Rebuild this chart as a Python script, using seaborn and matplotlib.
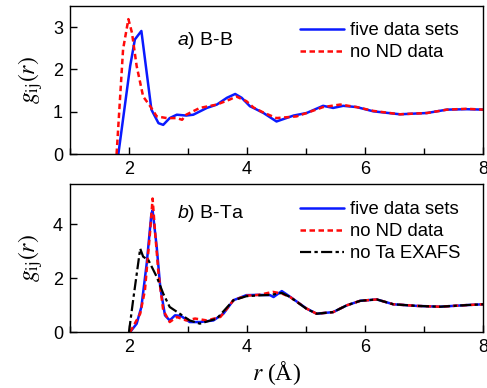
import matplotlib
matplotlib.use("Agg")
import matplotlib.pyplot as plt
import seaborn as sns
from matplotlib.ticker import MultipleLocator

# panel a) B-B
bb_five_r = [1.82, 2.02, 2.10, 2.21, 2.38, 2.50, 2.58, 2.69, 2.81, 2.97, 3.09, 3.32, 3.49, 3.66, 3.80, 3.91,
             4.05, 4.11, 4.28, 4.50, 4.79, 5.01, 5.29, 5.46, 5.63, 5.86, 6.14, 6.59, 7.05, 7.39, 7.72, 8.0]
bb_five_g = [0, 2.08, 2.71, 2.91, 1.05, 0.73, 0.69, 0.85, 0.93, 0.91, 0.93, 1.09, 1.17, 1.33, 1.42, 1.33,
             1.13, 1.09, 0.97, 0.77, 0.91, 0.97, 1.14, 1.09, 1.14, 1.11, 1.01, 0.94, 0.97, 1.05, 1.06, 1.05]
bb_nond_r = [1.79, 1.90, 1.99, 2.05, 2.13, 2.24, 2.36, 2.47, 2.64, 2.81, 2.90, 2.97, 3.20, 3.49, 3.71, 3.82,
             3.99, 4.11, 4.28, 4.50, 4.84, 5.01, 5.29, 5.58, 5.86, 6.14, 6.59, 7.05, 7.39, 7.72, 8.0]
bb_nond_g = [0, 2.48, 3.19, 2.87, 2.08, 1.36, 1.13, 0.89, 0.85, 0.85, 0.81, 0.93, 1.09, 1.17, 1.29, 1.36,
             1.25, 1.10, 0.98, 0.85, 0.89, 0.97, 1.11, 1.17, 1.11, 1.02, 0.94, 0.97, 1.05, 1.07, 1.05]

# panel b) B-Ta
bt_five_r = [2.02, 2.13, 2.21, 2.30, 2.38, 2.40, 2.47, 2.53, 2.61, 2.69, 2.78, 2.88, 3.03, 3.20, 3.43, 3.60,
             3.77, 3.99, 4.20, 4.39, 4.45, 4.59, 4.73, 5.01, 5.18, 5.46, 5.69, 5.92, 6.20, 6.48, 6.88, 7.27,
             7.72, 8.0]
bt_five_g = [0, 0.31, 0.93, 2.54, 4.40, 4.52, 3.16, 1.67, 0.62, 0.43, 0.62, 0.60, 0.37, 0.37, 0.43, 0.68,
             1.18, 1.37, 1.38, 1.37, 1.30, 1.52, 1.31, 0.87, 0.68, 0.74, 0.99, 1.16, 1.21, 1.03, 0.97, 0.94,
             1.00, 1.03]
bt_nond_r = [2.02, 2.19, 2.27, 2.36, 2.40, 2.44, 2.50, 2.58, 2.69, 2.81, 2.97, 3.12, 3.32, 3.55, 3.77, 3.99,
             4.20, 4.44, 4.59, 4.73, 5.01, 5.18, 5.46, 5.69, 5.92, 6.20, 6.48, 6.88, 7.27, 7.72, 8.0]
bt_nond_g = [0, 0.68, 1.55, 3.78, 4.96, 3.78, 2.17, 0.81, 0.37, 0.56, 0.43, 0.50, 0.43, 0.56, 1.18, 1.35,
             1.38, 1.49, 1.43, 1.30, 0.87, 0.68, 0.74, 0.99, 1.16, 1.21, 1.03, 0.97, 0.94, 1.00, 1.03]
bt_nota_r = [2.00, 2.07, 2.19, 2.24, 2.33, 2.47, 2.58, 2.69, 2.86, 3.03, 3.20, 3.49, 3.77, 3.99, 4.20, 4.40,
             4.59, 4.73, 5.01, 5.18, 5.46, 5.69, 5.92, 6.20, 6.48, 6.88, 7.27, 7.72, 8.0]
bt_nota_g = [0, 1.18, 3.10, 2.80, 2.67, 2.05, 1.43, 0.93, 0.68, 0.43, 0.31, 0.50, 1.18, 1.33, 1.36, 1.38,
             1.45, 1.30, 0.86, 0.68, 0.74, 0.99, 1.16, 1.21, 1.03, 0.97, 0.94, 1.00, 1.03]

sns.set_style("ticks")
plt.rcParams['font.family'] = ['Liberation Sans', 'DejaVu Sans']
plt.rcParams['mathtext.fontset'] = 'stix'
plt.rcParams['mathtext.it'] = 'Liberation Sans:italic'
plt.rcParams['mathtext.rm'] = 'Liberation Sans'
for k in ('text.color', 'axes.labelcolor', 'xtick.color', 'ytick.color', 'axes.edgecolor'):
    plt.rcParams[k] = 'black'

fig = plt.figure(figsize=(4.87, 3.88), dpi=100)
ax1 = fig.add_axes([0.1437, 0.603, 0.8481, 0.3815])
ax2 = fig.add_axes([0.1437, 0.1443, 0.8481, 0.3815])

red_dash = (0, (2.2, 1.4))
sns.lineplot(x=bb_five_r, y=bb_five_g, ax=ax1, color='#0a1aff', lw=1.8, sort=False, label='five data sets')
sns.lineplot(x=bb_nond_r, y=bb_nond_g, ax=ax1, color='#ff0a0a', lw=1.8, linestyle=red_dash,
             sort=False, label='no ND data')

sns.lineplot(x=bt_five_r, y=bt_five_g, ax=ax2, color='#0a1aff', lw=1.8, sort=False, label='five data sets')
sns.lineplot(x=bt_nond_r, y=bt_nond_g, ax=ax2, color='#ff0a0a', lw=1.8, linestyle=red_dash,
             sort=False, label='no ND data')
sns.lineplot(x=bt_nota_r, y=bt_nota_g, ax=ax2, color='black', lw=1.6, linestyle=(0, (5, 1.5, 1.5, 1.5)),
             sort=False, label='no Ta EXAFS')

ax1.set_ylim(0, 3.5)
ax2.set_ylim(0, 5.5)
ax1.yaxis.set_major_locator(MultipleLocator(1))
ax2.yaxis.set_major_locator(MultipleLocator(2))

for ax, ytop in ((ax1, 0.89), (ax2, 0.885)):
    ax.set_xlim(1, 8)
    ax.xaxis.set_major_locator(MultipleLocator(2))
    ax.xaxis.set_minor_locator(MultipleLocator(1))
    ax.tick_params(direction='in', labelsize=13, length=5, width=1, pad=5)
    ax.tick_params(which='minor', direction='in', length=4, width=1)
    for s in ax.spines.values():
        s.set_linewidth(1)
    ax.set_ylabel(r'$g_{\rm ij}(r)$', fontsize=17, labelpad=6, math_fontfamily='stix')
    ax.legend(loc='upper left', bbox_to_anchor=(0.557, ytop), frameon=False, fontsize=13.3,
              handlelength=2.4, handletextpad=0.33, labelspacing=0.27, borderaxespad=0, borderpad=0)

ax1.text(0.259, 0.77, r'$a$) B-B', transform=ax1.transAxes, fontsize=14, va='center',
         math_fontfamily='custom')
ax2.text(0.259, 0.80, r'$b$) B-Ta', transform=ax2.transAxes, fontsize=14, va='center',
         math_fontfamily='custom')
ax2.set_xlabel(r'$r$ (Å)', fontsize=17, family=['Liberation Serif'], labelpad=2, math_fontfamily='stix')

plt.savefig('out.png', dpi=100)
plt.close()
